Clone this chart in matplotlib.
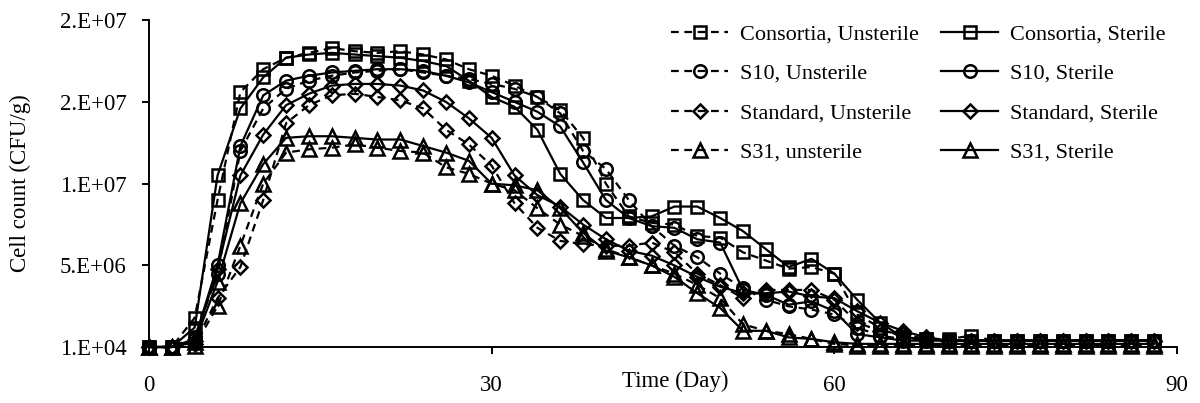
import matplotlib
matplotlib.use("Agg")
import matplotlib.pyplot as plt
import numpy as np

plt.rcParams["font.family"] = ["Liberation Serif", "DejaVu Serif"]

# sampling days (every 2 days)
days = np.arange(0, 90, 2)

# cell counts in millions of CFU/g
cons_u = [0.01, 0.01, 1.8, 9.0, 15.6, 17.0, 17.7, 18.0, 18.3, 18.1,
          18.0, 18.1, 17.9, 17.6, 17.0, 16.6, 16.0, 15.3, 14.5, 12.8,
          10.0, 8.0, 7.6, 7.5, 6.8, 6.7, 5.8, 5.3, 4.8, 4.9,
          4.5, 2.0, 1.2, 0.6, 0.5, 0.5, 0.7, 0.4, 0.4, 0.4,
          0.4, 0.4, 0.4, 0.4, 0.4]
cons_s = [0.01, 0.01, 1.2, 10.5, 14.6, 16.5, 17.7, 17.9, 18.0, 17.9,
          17.8, 17.7, 17.5, 17.2, 16.3, 15.3, 14.7, 13.3, 10.6, 9.0,
          7.9, 7.9, 8.0, 8.6, 8.6, 7.9, 7.1, 6.0, 4.9, 5.4,
          4.5, 2.9, 1.5, 0.6, 0.5, 0.4, 0.4, 0.4, 0.4, 0.4,
          0.4, 0.4, 0.4, 0.4, 0.4]
s10_u = [0.01, 0.01, 0.6, 4.5, 12.0, 14.6, 15.8, 16.3, 16.6, 16.8,
         16.9, 17.0, 16.8, 16.6, 16.4, 16.1, 15.8, 15.3, 14.3, 12.0,
         10.9, 9.0, 7.4, 6.2, 5.5, 4.5, 3.6, 2.9, 2.5, 2.3,
         2.0, 1.2, 0.7, 0.5, 0.4, 0.4, 0.4, 0.4, 0.4, 0.4,
         0.4, 0.4, 0.4, 0.4, 0.4]
s10_s = [0.01, 0.01, 0.5, 5.0, 12.3, 15.4, 16.3, 16.6, 16.8, 16.9,
         17.0, 17.0, 16.9, 16.6, 16.2, 15.6, 15.0, 14.4, 13.5, 11.3,
         9.0, 7.9, 7.4, 7.3, 6.6, 6.4, 3.5, 3.2, 2.6, 2.8,
         2.2, 0.8, 0.6, 0.4, 0.4, 0.4, 0.4, 0.4, 0.4, 0.4,
         0.4, 0.4, 0.4, 0.4, 0.4]
std_u = [0.01, 0.01, 0.2, 3.0, 4.9, 9.0, 13.7, 14.8, 15.4, 15.5,
         15.3, 15.1, 14.6, 13.3, 12.4, 11.1, 8.8, 7.3, 6.5, 6.3,
         6.2, 6.2, 6.4, 5.8, 4.5, 3.8, 3.0, 3.5, 3.5, 3.5,
         2.9, 1.5, 1.0, 0.8, 0.5, 0.4, 0.4, 0.4, 0.4, 0.4,
         0.4, 0.4, 0.4, 0.4, 0.4]
std_s = [0.01, 0.01, 0.4, 4.8, 10.5, 13.0, 14.8, 15.5, 16.0, 16.1,
         16.1, 16.0, 15.7, 15.0, 14.0, 12.8, 10.5, 9.3, 8.6, 7.5,
         6.6, 5.9, 5.6, 5.0, 4.3, 3.7, 3.3, 3.3, 3.4, 3.1,
         3.0, 2.2, 1.5, 1.0, 0.6, 0.4, 0.4, 0.4, 0.4, 0.4,
         0.4, 0.4, 0.4, 0.4, 0.4]
s31_u = [0.01, 0.01, 0.1, 2.5, 6.2, 10.0, 11.9, 12.1, 12.2, 12.4,
         12.2, 12.0, 11.9, 11.0, 10.6, 10.0, 9.6, 8.5, 7.5, 6.8,
         6.0, 5.5, 5.0, 4.5, 3.8, 3.0, 1.4, 1.0, 0.8, 0.5,
         0.2, 0.1, 0.1, 0.1, 0.1, 0.1, 0.1, 0.1, 0.1, 0.1,
         0.1, 0.1, 0.1, 0.1, 0.1]
s31_s = [0.01, 0.01, 0.3, 4.0, 8.8, 11.2, 12.8, 12.9, 12.9, 12.8,
         12.7, 12.7, 12.3, 11.9, 11.4, 10.0, 9.9, 9.6, 8.5, 7.0,
         5.9, 5.5, 5.0, 4.3, 3.3, 2.4, 1.0, 1.0, 0.6, 0.5,
         0.3, 0.2, 0.2, 0.2, 0.2, 0.2, 0.2, 0.2, 0.2, 0.2,
         0.2, 0.2, 0.2, 0.2, 0.2]

y_ticks = [0.01, 5.01, 10.01, 15.01, 20.01]
y_tick_labels = ["1.E+04", "5.E+06", "1.E+07", "2.E+07", "2.E+07"]
x_ticks = [0, 30, 60, 90]

series = [
    ("Consortia, Unsterile", cons_u, "s", "dash"),
    ("S10, Unsterile", s10_u, "o", "dash"),
    ("Standard, Unsterile", std_u, "D", "dash"),
    ("S31, unsterile", s31_u, "^", "dash"),
    ("Consortia, Sterile", cons_s, "s", "solid"),
    ("S10, Sterile", s10_s, "o", "solid"),
    ("Standard, Sterile", std_s, "D", "solid"),
    ("S31, Sterile", s31_s, "^", "solid"),
]
msize = {"s": 9, "o": 9, "D": 7.5, "^": 9.5}

fig = plt.figure(figsize=(12, 4.03), dpi=100)
ax = fig.add_axes([149/1200, 56/403, 1028/1200, 327/403])

for label, vals, mk, ls in series:
    style = (0, (3.5, 2.5)) if ls == "dash" else "-"
    ax.plot(days, vals, linestyle=style, color="black", lw=1.6,
            marker=mk, ms=msize[mk], mfc="none", mec="black", mew=1.8,
            label=label, clip_on=False)

ax.set_xlim(0, 90)
ax.set_ylim(0.01, 20.01)
ax.set_xticks(x_ticks)
ax.set_yticks(y_ticks)
ax.set_yticklabels(y_tick_labels)
for s in ("top", "right"):
    ax.spines[s].set_visible(False)
for s in ("left", "bottom"):
    ax.spines[s].set_linewidth(1.4)
ax.tick_params(axis="y", length=5, width=1.4, pad=11, labelsize=16.5)
ax.tick_params(axis="x", length=5, width=1.4, pad=15, labelsize=16.5)

ax.set_xlabel("Time (Day)", fontsize=16.5)
ax.xaxis.set_label_coords((675 - 149) / 1028, -0.072)
ax.set_ylabel("Cell count (CFU/g)", fontsize=16.5)
ax.yaxis.set_label_coords(-0.115, 0.5)

ax.legend(loc="upper right", bbox_to_anchor=(1185/1200, 1 - 4/403), bbox_transform=fig.transFigure,
          ncol=2, frameon=False, fontsize=16, handlelength=2.6, columnspacing=1.0,
          labelspacing=0.85, handletextpad=0.5)

fig.savefig("out.png", dpi=100)
